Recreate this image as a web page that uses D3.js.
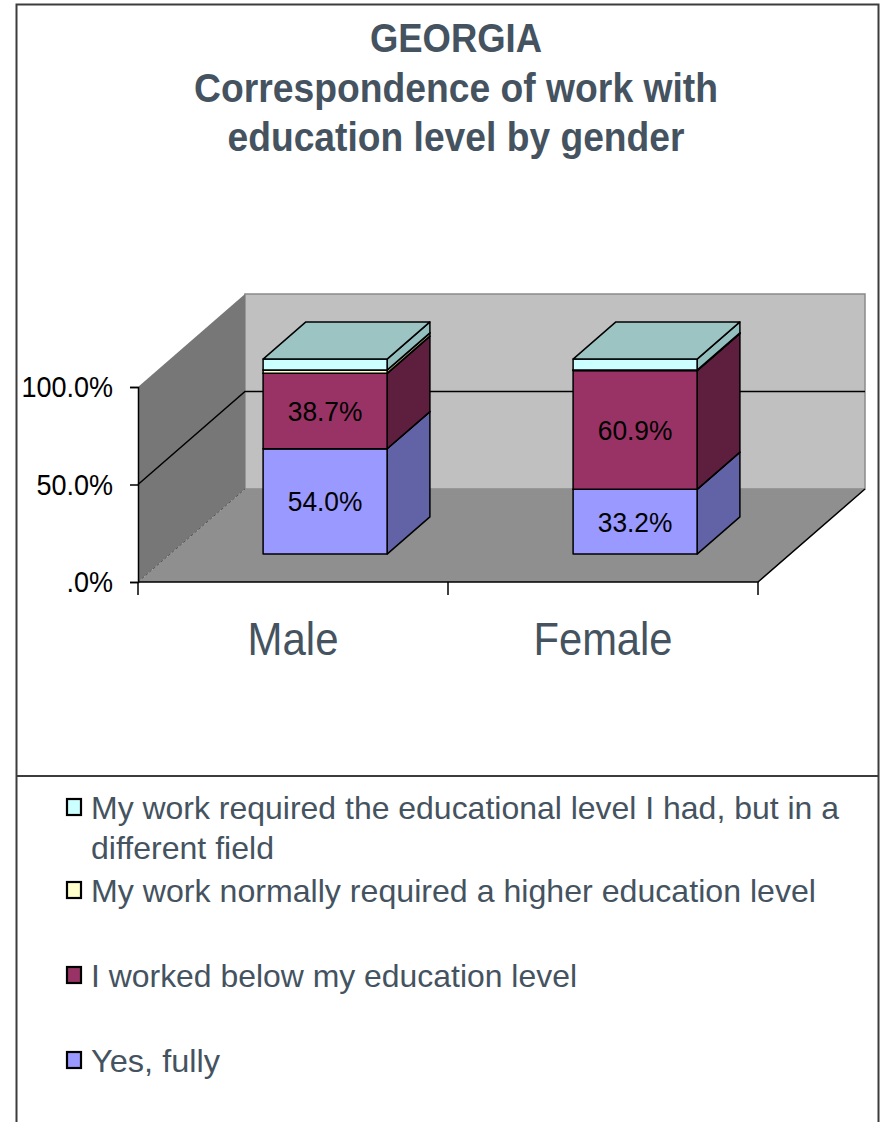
<!DOCTYPE html>
<html>
<head>
<meta charset="utf-8">
<script src="https://cdn.jsdelivr.net/npm/d3@7"></script>
<style>
  html, body { margin: 0; padding: 0; background: #ffffff; }
  svg { display: block; }
  text { font-family: "Liberation Sans", Arial, sans-serif; }
</style>
</head>
<body>
<svg id="chart" width="883" height="1122"></svg>
<script>
// ---------------- data ----------------
const categories = ["Male", "Female"];
const seriesKeys = ["yes", "below", "higher", "different"];
const seriesNames = [
  "Yes, fully",
  "I worked below my education level",
  "My work normally required a higher education level",
  "My work required the educational level I had, but in a different field"
];
const yesFully = [54.0, 33.2];
const workedBelow = [38.7, 60.9];
const higherRequired = [1.7, 0.3];
const differentField = [5.6, 5.6];
const yTicks = [0, 50, 100];
const yTickLabels = [".0%", "50.0%", "100.0%"];
const titleLines = ["GEORGIA", "Correspondence of work with", "education level by gender"];

// ---------------- styles ----------------
const frontColors = ["#9999ff", "#993366", "#ffffcc", "#ccffff"];
const sideColors  = ["#6263a6", "#5e1e3e", "#9c9c78", "#93c0bf"];
const topColors   = ["#7d7dd0", "#7a2a52", "#d8d8aa", "#9cc4c2"];
const textColor = "#44535f";

const svg = d3.select("#chart");

// outer frame
svg.append("rect").attr("x", 16.5).attr("y", 4.5).attr("width", 862).attr("height", 1140)
  .attr("fill", "#fff").attr("stroke", "#3c3c3c").attr("stroke-width", 2);
svg.append("line").attr("x1", 16.5).attr("x2", 878.5).attr("y1", 776).attr("y2", 776)
  .attr("stroke", "#3c3c3c").attr("stroke-width", 2);

// title
const titleW = [172, 524, 457];
const titleY = [52, 102, 151];
titleLines.forEach((t, i) => {
  svg.append("text").attr("x", 456).attr("y", titleY[i]).attr("text-anchor", "middle")
    .attr("font-size", 41).attr("font-weight", "bold").attr("fill", textColor)
    .attr("textLength", titleW[i]).attr("lengthAdjust", "spacingAndGlyphs").text(t);
});

// ---------------- scales / projection ----------------
const X0 = 138, X1 = 758;
const y = d3.scaleLinear().domain([0, 100]).range([582, 387]);
const x = d3.scaleBand().domain(categories).range([X0, X1]).paddingInner(0.6).paddingOuter(0.3);
const DX = 107, DY = -93;          // full depth offset
const F0 = 0.30, F1 = 0.70;        // bar depth (front, back)
const P = (px, v, d) => [px + d * DX, y(v) + d * DY];
const poly = pts => "M" + pts.map(p => p.join(",")).join("L") + "Z";

// walls and floor
svg.append("path").attr("d", poly([P(X0,0,1), P(X1,0,1), P(X1,100,1), P(X0,100,1)]))
  .attr("fill", "#c0c0c0").attr("stroke", "#8a8a8a").attr("stroke-width", 1.5);
svg.append("path").attr("d", poly([P(X0,0,0), P(X0,0,1), P(X0,100,1), P(X0,100,0)]))
  .attr("fill", "#777777").attr("stroke", "none");
svg.append("path").attr("d", poly([P(X0,0,0), P(X1,0,0), P(X1,0,1), P(X0,0,1)]))
  .attr("fill", "#8f8f8f").attr("stroke", "none");
svg.append("line").attr("x1", P(X0,0,0)[0]).attr("y1", P(X0,0,0)[1])
  .attr("x2", P(X0,0,1)[0]).attr("y2", P(X0,0,1)[1])
  .attr("stroke", "#555").attr("stroke-width", 1).attr("stroke-dasharray", "3,2");
// floor front-right edge
svg.append("path").attr("d", "M" + P(X0,0,0) + "L" + P(X1,0,0) + "L" + P(X1,0,1))
  .attr("fill", "none").attr("stroke", "#000").attr("stroke-width", 1.5);

// gridlines (50%)
yTicks.filter(v => v > 0 && v < 100).forEach(v => {
  svg.append("path").attr("d", "M" + P(X0,v,0) + "L" + P(X0,v,1) + "L" + P(X1,v,1))
    .attr("fill", "none").attr("stroke", "#000").attr("stroke-width", 1.5);
});

// y axis
const yAxis = d3.axisLeft(y).tickValues(yTicks).tickSize(8).tickPadding(17)
  .tickFormat((d, i) => yTickLabels[i]);
const gy = svg.append("g").attr("transform", `translate(${X0},0)`).call(yAxis);
gy.select(".domain").attr("stroke", "#000").attr("stroke-width", 1.5);
gy.selectAll(".tick line").attr("stroke", "#000").attr("stroke-width", 1.5);
gy.selectAll(".tick text").attr("font-size", 30).attr("fill", "#000")
  .attr("font-family", "Liberation Sans, Arial, sans-serif")
  .each(function() { const w = this.getComputedTextLength(); d3.select(this).attr("textLength", w * 0.9).attr("lengthAdjust", "spacingAndGlyphs"); });

// category axis ticks at band boundaries
d3.range(categories.length + 1).forEach(i => {
  const bx = X0 + i * x.step();
  svg.append("line").attr("x1", bx).attr("x2", bx).attr("y1", 582).attr("y2", 595)
    .attr("stroke", "#000").attr("stroke-width", 1.5);
});
const catW = [91, 139];
categories.forEach((c, i) => {
  svg.append("text").attr("x", x(c) + x.bandwidth() / 2).attr("y", 655).attr("text-anchor", "middle")
    .attr("font-size", 46).attr("fill", textColor)
    .attr("textLength", catW[i]).attr("lengthAdjust", "spacingAndGlyphs").text(c);
});

// ---------------- bars ----------------
const table = categories.map((c, i) => ({
  cat: c, yes: yesFully[i], below: workedBelow[i], higher: higherRequired[i], different: differentField[i]
}));
const stacked = d3.stack().keys(seriesKeys)(table);

categories.forEach((c, ci) => {
  const xl = x(c), xr = xl + x.bandwidth();
  const g = svg.append("g");
  stacked.forEach((layer, si) => {
    const [v0, v1] = layer[ci];
    g.append("path").attr("d", poly([P(xr,v0,F0), P(xr,v0,F1), P(xr,v1,F1), P(xr,v1,F0)]))
      .attr("fill", sideColors[si]).attr("stroke", "#000").attr("stroke-width", 1.5).attr("stroke-linejoin", "round");
    g.append("path").attr("d", poly([P(xl,v0,F0), P(xr,v0,F0), P(xr,v1,F0), P(xl,v1,F0)]))
      .attr("fill", frontColors[si]).attr("stroke", "#000").attr("stroke-width", 1.5).attr("stroke-linejoin", "round");
    g.append("path").attr("d", poly([P(xl,v1,F0), P(xr,v1,F0), P(xr,v1,F1), P(xl,v1,F1)]))
      .attr("fill", topColors[si]).attr("stroke", "#000").attr("stroke-width", 1.5).attr("stroke-linejoin", "round");
  });
  // data labels for first two series
  stacked.slice(0, 2).forEach((layer) => {
    const [v0, v1] = layer[ci];
    const p = P((xl + xr) / 2, (v0 + v1) / 2, F0);
    const val = v1 - v0;
    svg.append("text").attr("x", p[0]).attr("y", p[1] + 10).attr("text-anchor", "middle")
      .attr("font-size", 28).attr("fill", "#000")
      .text(d3.format(".1f")(val) + "%")
      .each(function() { const w = this.getComputedTextLength(); d3.select(this).attr("textLength", w * 0.94).attr("lengthAdjust", "spacingAndGlyphs"); });
  });
});

// ---------------- legend ----------------
const legendOrder = [3, 2, 1, 0];
const legendLines = [
  ["My work required the educational level I had, but in a", "different field"],
  ["My work normally required a higher education level"],
  ["I worked below my education level"],
  ["Yes, fully"]
];
const legendLineW = [[748, 183], [725], [486], [129]];
const legendBase = [[819, 859], [902], [987], [1072]];
legendOrder.forEach((si, k) => {
  svg.append("rect").attr("x", 67).attr("y", legendBase[k][0] - 20).attr("width", 14).attr("height", 16)
    .attr("fill", frontColors[si]).attr("stroke", "#000").attr("stroke-width", 2.2);
  legendLines[k].forEach((ln, j) => {
    svg.append("text").attr("x", 91).attr("y", legendBase[k][j]).attr("font-size", 32)
      .attr("fill", textColor).attr("textLength", legendLineW[k][j]).attr("lengthAdjust", "spacingAndGlyphs")
      .text(ln);
  });
});
</script>
</body>
</html>
